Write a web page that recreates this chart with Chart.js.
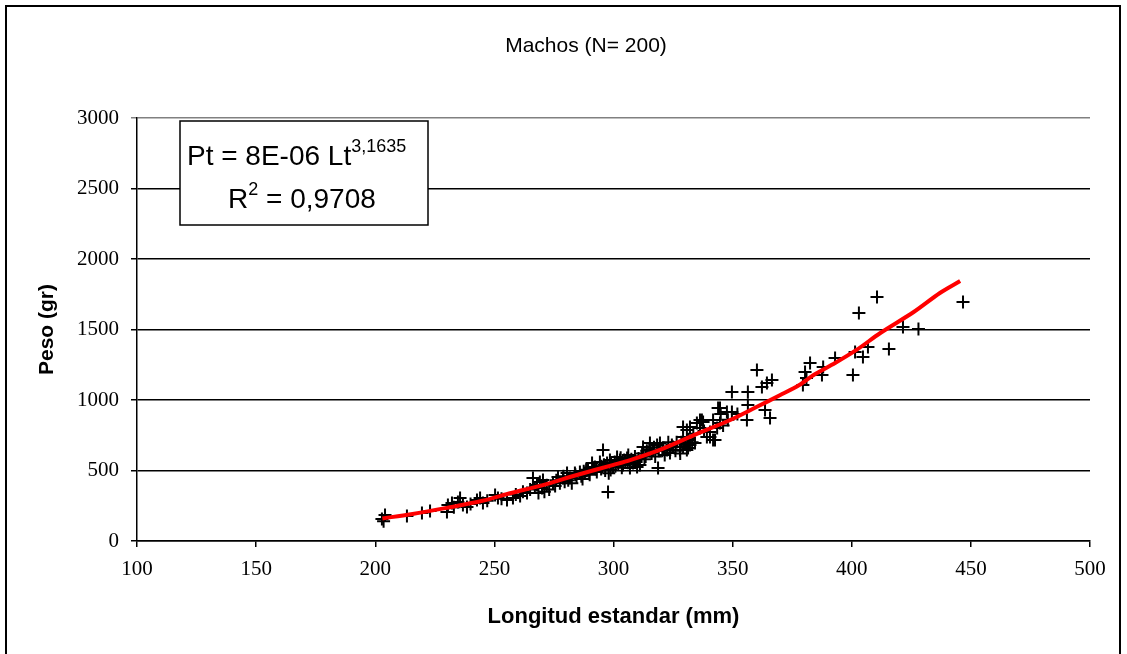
<!DOCTYPE html>
<html>
<head>
<meta charset="utf-8">
<script src="https://cdn.jsdelivr.net/npm/chart.js@4.4.1/dist/chart.umd.min.js"></script>
<style>
  html, body { margin: 0; padding: 0; background: #fff; }
  #wrap { width: 1127px; height: 654px; }
</style>
</head>
<body>
<div id="wrap"><canvas id="c" width="1127" height="654"></canvas></div>
<script>
// Machos (N=200): peso vs longitud estandar, con curva potencial ajustada.

// ---- datos ----
const lengthMm = [
  202.8, 203.5, 204.1, 213.3, 219.6, 223.0, 230.1, 230.5, 232.2, 233.0,
  234.7, 235.6, 236.8, 238.5, 240.0, 242.7, 244.0, 245.2, 247.0, 250.3,
  251.5, 253.0, 255.3, 257.8, 259.0, 260.8, 262.0, 263.7, 265.0, 266.2,
  267.0, 267.9, 268.5, 269.1, 270.0, 270.4, 271.0, 272.0, 273.0, 274.6,
  275.5, 276.0, 276.7, 277.5, 278.8, 279.0, 279.5, 280.5, 281.0, 281.7,
  282.5, 283.8, 284.0, 284.5, 285.9, 286.5, 287.0, 287.5, 288.0, 288.5,
  289.3, 289.8, 290.0, 291.0, 291.5, 292.2, 292.8, 293.0, 294.3, 294.8,
  295.0, 295.6, 296.0, 296.5, 297.3, 297.7, 298.0, 298.5, 298.8, 299.0,
  299.8, 300.5, 300.8, 301.5, 302.0, 302.7, 303.0, 303.5, 304.0, 304.5,
  305.0, 305.7, 306.0, 306.2, 306.9, 307.5, 308.2, 308.8, 309.0, 309.9,
  310.5, 311.1, 311.8, 312.0, 312.4, 313.0, 313.5, 314.0, 315.0, 315.3,
  316.0, 316.6, 317.0, 317.5, 318.3, 318.7, 319.0, 319.5, 320.5, 321.0,
  321.5, 322.5, 323.0, 323.7, 324.5, 325.0, 326.0, 326.5, 327.9, 328.0,
  328.5, 329.2, 329.2, 329.2, 330.0, 330.8, 330.8, 331.3, 331.3, 332.1,
  332.1, 333.0, 333.5, 334.2, 335.0, 336.3, 336.3, 337.1, 337.6, 338.0,
  339.2, 340.5, 340.5, 341.8, 341.8, 342.6, 343.5, 343.9, 344.7, 344.7,
  345.0, 346.0, 347.6, 348.0, 349.7, 349.7, 352.0, 356.0, 356.4, 356.4,
  360.2, 362.3, 363.6, 364.4, 365.7, 366.5, 379.5, 380.4, 381.0, 382.5,
  387.5, 388.0, 393.0, 400.5, 401.4, 403.0, 404.7, 406.8, 410.6, 415.6,
  421.5, 428.0, 446.7
];
const weightGr = [
  156, 140, 184, 177, 199, 213, 206, 255, 270, 240,
  277, 305, 255, 241, 262, 291, 305, 270, 285, 326,
  305, 300, 291, 305, 330, 319, 350, 340, 365, 447,
  380, 397, 340, 418, 376, 433, 350, 395, 365, 411,
  390, 430, 454, 410, 447, 460, 420, 482, 430, 447,
  410, 482, 470, 455, 489, 460, 440, 495, 482, 505,
  504, 480, 470, 553, 520, 525, 510, 490, 560, 510,
  530, 645, 540, 500, 553, 348, 480, 574, 504, 545,
  525, 560, 530, 596, 545, 574, 590, 520, 539, 575,
  560, 589, 555, 610, 518, 580, 553, 570, 600, 525,
  585, 539, 600, 620, 667, 580, 600, 640, 650, 695,
  620, 645, 665, 600, 681, 518, 640, 695, 640, 660,
  610, 645, 700, 624, 680, 667, 640, 700, 645, 620,
  700, 667, 809, 738, 690, 787, 645, 660, 716, 681,
  809, 700, 760, 695, 837, 858, 801, 858, 844, 780,
  738, 773, 738, 858, 716, 716, 801, 943, 837, 943,
  900, 820, 915, 860, 1057, 915, 900, 858, 1057, 965,
  1213, 1092, 929, 1121, 872, 1142, 1106, 1199, 1156, 1262,
  1177, 1234, 1298, 1177, 1340, 1617, 1305, 1376, 1730, 1362,
  1518, 1503, 1695
];
// curva ajustada (Pt = 8E-06 Lt^3,1635) tal como se ve trazada
const trendX = [203, 215, 230, 245, 257, 270, 285, 300, 307, 320, 335, 349, 360, 370, 378, 384, 393, 402, 412, 426, 437, 445.5];
const trendY = [160, 190, 235, 285, 340, 395, 470, 540, 574, 650, 760, 858, 950, 1035, 1106, 1177, 1262, 1355, 1475, 1624, 1759, 1844];

const xTicks = [100, 150, 200, 250, 300, 350, 400, 450, 500];
const yTicks = [0, 500, 1000, 1500, 2000, 2500, 3000];

const chartTitle = 'Machos (N= 200)';
const xTitle = 'Longitud estandar (mm)';
const yTitle = 'Peso (gr)';
const eqMain = 'Pt = 8E-06 Lt';
const eqExp = '3,1635';
const r2Main = 'R';
const r2Exp = '2';
const r2Rest = ' = 0,9708';

const SANS = 'Arial, "Liberation Sans", sans-serif';
const SERIF = '"Times New Roman", "Liberation Serif", serif';

// ---- recuadro exterior, titulo y cuadro de la ecuacion ----
const decorPlugin = {
  id: 'decor',
  afterDraw(chart) {
    const ctx = chart.ctx;
    ctx.save();
    ctx.strokeStyle = '#000';
    ctx.lineWidth = 2;
    ctx.strokeRect(6, 6, 1114, 660);

    // titulo
    ctx.fillStyle = '#000';
    ctx.font = '21px ' + SANS;
    ctx.textAlign = 'center';
    ctx.textBaseline = 'middle';
    ctx.fillText(chartTitle, 586, 46);

    // cuadro de la ecuacion
    ctx.fillStyle = '#fff';
    ctx.fillRect(180, 121, 248, 104);
    ctx.lineWidth = 1.5;
    ctx.strokeRect(180, 121, 248, 104);

    ctx.fillStyle = '#000';
    ctx.textBaseline = 'alphabetic';
    ctx.textAlign = 'left';
    ctx.font = '28px ' + SANS;
    ctx.fillText(eqMain, 187, 165);
    const w1 = ctx.measureText(eqMain).width;
    ctx.font = '18px ' + SANS;
    ctx.fillText(eqExp, 187 + w1, 152);

    ctx.font = '28px ' + SANS;
    ctx.fillText(r2Main, 228, 208);
    const wR = ctx.measureText(r2Main).width;
    ctx.font = '18px ' + SANS;
    ctx.fillText(r2Exp, 228 + wR, 195);
    const wE = ctx.measureText(r2Exp).width;
    ctx.font = '28px ' + SANS;
    ctx.fillText(r2Rest, 228 + wR + wE, 208);
    ctx.restore();
  }
};

Chart.defaults.color = '#000';
Chart.defaults.font.family = SANS;

new Chart(document.getElementById('c'), {
  type: 'scatter',
  data: {
    datasets: [
      {
        type: 'line',
        data: trendX.map((x, i) => ({ x, y: trendY[i] })),
        borderColor: '#ff0000',
        borderWidth: 4,
        pointRadius: 0,
        tension: 0.3,
        fill: false,
        order: 0,
      },
      {
        data: lengthMm.map((x, i) => ({ x, y: weightGr[i] })),
        pointStyle: 'cross',
        pointRadius: 6.5,
        borderColor: '#000',
        backgroundColor: '#000',
        borderWidth: 2,
        order: 1,
      },
    ],
  },
  options: {
    responsive: false,
    animation: false,
    layout: { padding: { left: 0, top: 118, right: 37, bottom: 0 } },
    plugins: {
      legend: { display: false },
      tooltip: { enabled: false },
      title: { display: false },
    },
    scales: {
      x: {
        type: 'linear',
        min: 100,
        max: 500,
        afterFit: s => { s.height = 113; },
        afterBuildTicks: s => { s.ticks = xTicks.map(v => ({ value: v })); },
        border: { display: true, color: '#000', width: 1.5 },
        grid: { drawOnChartArea: false, drawTicks: true, tickLength: 6, color: '#000', lineWidth: 1.5 },
        ticks: {
          padding: 10,
          color: '#000',
          maxRotation: 0,
          callback: v => String(v),
          font: { family: SERIF, size: 21 },
        },
        title: {
          display: true,
          text: xTitle,
          color: '#000',
          font: { size: 22, weight: 'bold' },
          padding: { top: 24, bottom: 24 },
        },
      },
      y: {
        type: 'linear',
        min: 0,
        max: 3000,
        afterFit: s => { s.width = 137; },
        afterBuildTicks: s => { s.ticks = yTicks.map(v => ({ value: v })); },
        border: { display: true, color: '#000', width: 1.5 },
        grid: {
          drawTicks: true,
          tickLength: 6,
          color: c => (c.tick && c.tick.value === 3000 ? '#808080' : '#000'),
          lineWidth: 1.5,
        },
        ticks: {
          padding: 12,
          color: '#000',
          callback: v => String(v),
          font: { family: SERIF, size: 21 },
        },
        title: {
          display: true,
          text: yTitle,
          color: '#000',
          font: { size: 21, weight: 'bold' },
          padding: { top: 35, bottom: 35 },
        },
      },
    },
  },
  plugins: [decorPlugin],
});
</script>
</body>
</html>
